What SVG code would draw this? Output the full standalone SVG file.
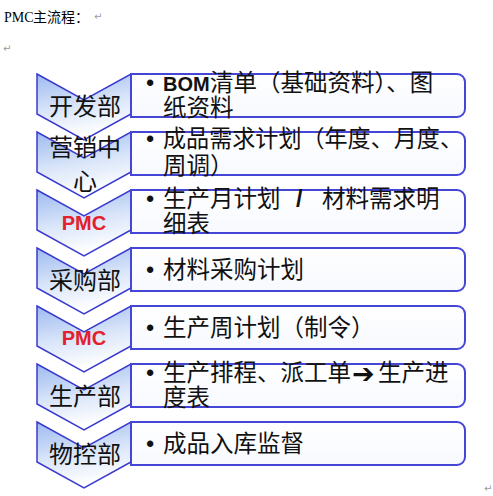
<svg xmlns="http://www.w3.org/2000/svg" width="493" height="496" viewBox="0 0 493 496">
<defs>
<linearGradient id="chev" x1="0" y1="0" x2="0.25" y2="1">
<stop offset="0" stop-color="#9dbaf0"/>
<stop offset="0.55" stop-color="#d9e5f9"/>
<stop offset="1" stop-color="#ffffff"/>
</linearGradient>
<linearGradient id="boxg" x1="0" y1="0" x2="0" y2="1">
<stop offset="0" stop-color="#ffffff"/>
<stop offset="1" stop-color="#f7f9fe"/>
</linearGradient>
</defs>
<style>
.chev{fill:url(#chev);stroke:#3a3acf;stroke-width:1.5;stroke-linejoin:miter}
.box{fill:url(#boxg);stroke:#4545d6;stroke-width:2}
.cj{font-family:"Noto Sans CJK SC","Noto Sans",sans-serif;fill:#111}
.ct{font-size:24px;text-anchor:middle}
.bt{font-size:23.5px}
.bul{font-family:"Liberation Sans",Arial,sans-serif;font-size:23.5px;fill:#111}
.lat{font-family:"Liberation Sans",Arial,sans-serif;font-weight:bold}
.pmc{font-family:"Liberation Sans",Arial,sans-serif;font-weight:bold;font-size:20px;fill:#e3202b;text-anchor:middle}
.pm{font-family:"DejaVu Sans",sans-serif;font-size:10px;fill:#9a9a9a}
.hd{font-size:14px;fill:#000}
</style>
<g id="header">
<text x="4" y="22" class="hd"><tspan font-family="Liberation Serif,serif">PMC </tspan><tspan font-family="Noto Sans CJK SC,sans-serif" x="33">主流程：</tspan></text>
<text x="94" y="20" class="pm">↵</text>
<text x="3" y="52" class="pm">↵</text>
<text x="484" y="492" class="pm">↵</text>
</g>
<g id="connectors"/>
<g id="node-kaifa">
<path class="chev" d="M37,74 L84,100 L131,74 L131,114 L84,140 L37,114 Z"/>
<path class="box" d="M131,74 H457 A8,8 0 0 1 465,82 V109 A8,8 0 0 1 457,117 H131 Z"/>
<text x="85" y="115" class="cj ct">开发部</text>
<text x="146" y="91" class="bul">•</text>
<text y="91" class="cj bt"><tspan x="163" class="lat" font-size="20px">BOM</tspan><tspan x="210">清单（基础资料）、图</tspan></text>
<text x="163" y="116" class="cj bt">纸资料</text>
</g>
<g id="node-yingxiao">
<path class="chev" d="M37,132 L84,158 L131,132 L131,172 L84,198 L37,172 Z"/>
<path class="box" d="M131,132 H457 A8,8 0 0 1 465,140 V167 A8,8 0 0 1 457,175 H131 Z"/>
<text x="85" y="156" class="cj ct">营销中</text>
<text x="85" y="190" class="cj ct">心</text>
<text x="146" y="147" class="bul">•</text>
<text x="163" y="147" class="cj bt" textLength="300" lengthAdjust="spacingAndGlyphs">成品需求计划（年度、月度、</text>
<text x="163" y="174" class="cj bt">周调）</text>
</g>
<g id="node-pmc1">
<path class="chev" d="M37,190 L84,216 L131,190 L131,230 L84,256 L37,230 Z"/>
<path class="box" d="M131,190 H457 A8,8 0 0 1 465,198 V225 A8,8 0 0 1 457,233 H131 Z"/>
<text x="84" y="230" class="pmc">PMC</text>
<text x="146" y="207" class="bul">•</text>
<text y="207" class="cj bt"><tspan x="163">生产月计划</tspan><tspan x="296" class="lat">/</tspan><tspan x="322">材料需求明</tspan></text>
<text x="163" y="232" class="cj bt">细表</text>
</g>
<g id="node-caigou">
<path class="chev" d="M37,248 L84,274 L131,248 L131,288 L84,314 L37,288 Z"/>
<path class="box" d="M131,248 H457 A8,8 0 0 1 465,256 V283 A8,8 0 0 1 457,291 H131 Z"/>
<text x="85" y="289" class="cj ct">采购部</text>
<text x="146" y="278" class="bul">•</text>
<text x="163" y="278" class="cj bt">材料采购计划</text>
</g>
<g id="node-pmc2">
<path class="chev" d="M37,306 L84,332 L131,306 L131,346 L84,372 L37,346 Z"/>
<path class="box" d="M131,306 H457 A8,8 0 0 1 465,314 V341 A8,8 0 0 1 457,349 H131 Z"/>
<text x="84" y="345" class="pmc">PMC</text>
<text x="146" y="336" class="bul">•</text>
<text x="163" y="336" class="cj bt">生产周计划（制令）</text>
</g>
<g id="node-shengchan">
<path class="chev" d="M37,364 L84,390 L131,364 L131,404 L84,430 L37,404 Z"/>
<path class="box" d="M131,364 H457 A8,8 0 0 1 465,372 V399 A8,8 0 0 1 457,407 H131 Z"/>
<text x="85" y="405" class="cj ct">生产部</text>
<text x="146" y="381" class="bul">•</text>
<text y="381" class="cj bt"><tspan x="163">生产排程、派工单</tspan><tspan x="352" y="383" font-family="DejaVu Sans,sans-serif" font-size="27px">➔</tspan><tspan x="378" y="381">生产进</tspan></text>
<text x="163" y="406" class="cj bt">度表</text>
</g>
<g id="node-wukong">
<path class="chev" d="M37,422 L84,448 L131,422 L131,462 L84,488 L37,462 Z"/>
<path class="box" d="M131,422 H457 A8,8 0 0 1 465,430 V457 A8,8 0 0 1 457,465 H131 Z"/>
<text x="85" y="463" class="cj ct">物控部</text>
<text x="146" y="452" class="bul">•</text>
<text x="163" y="452" class="cj bt">成品入库监督</text>
</g>
</svg>
